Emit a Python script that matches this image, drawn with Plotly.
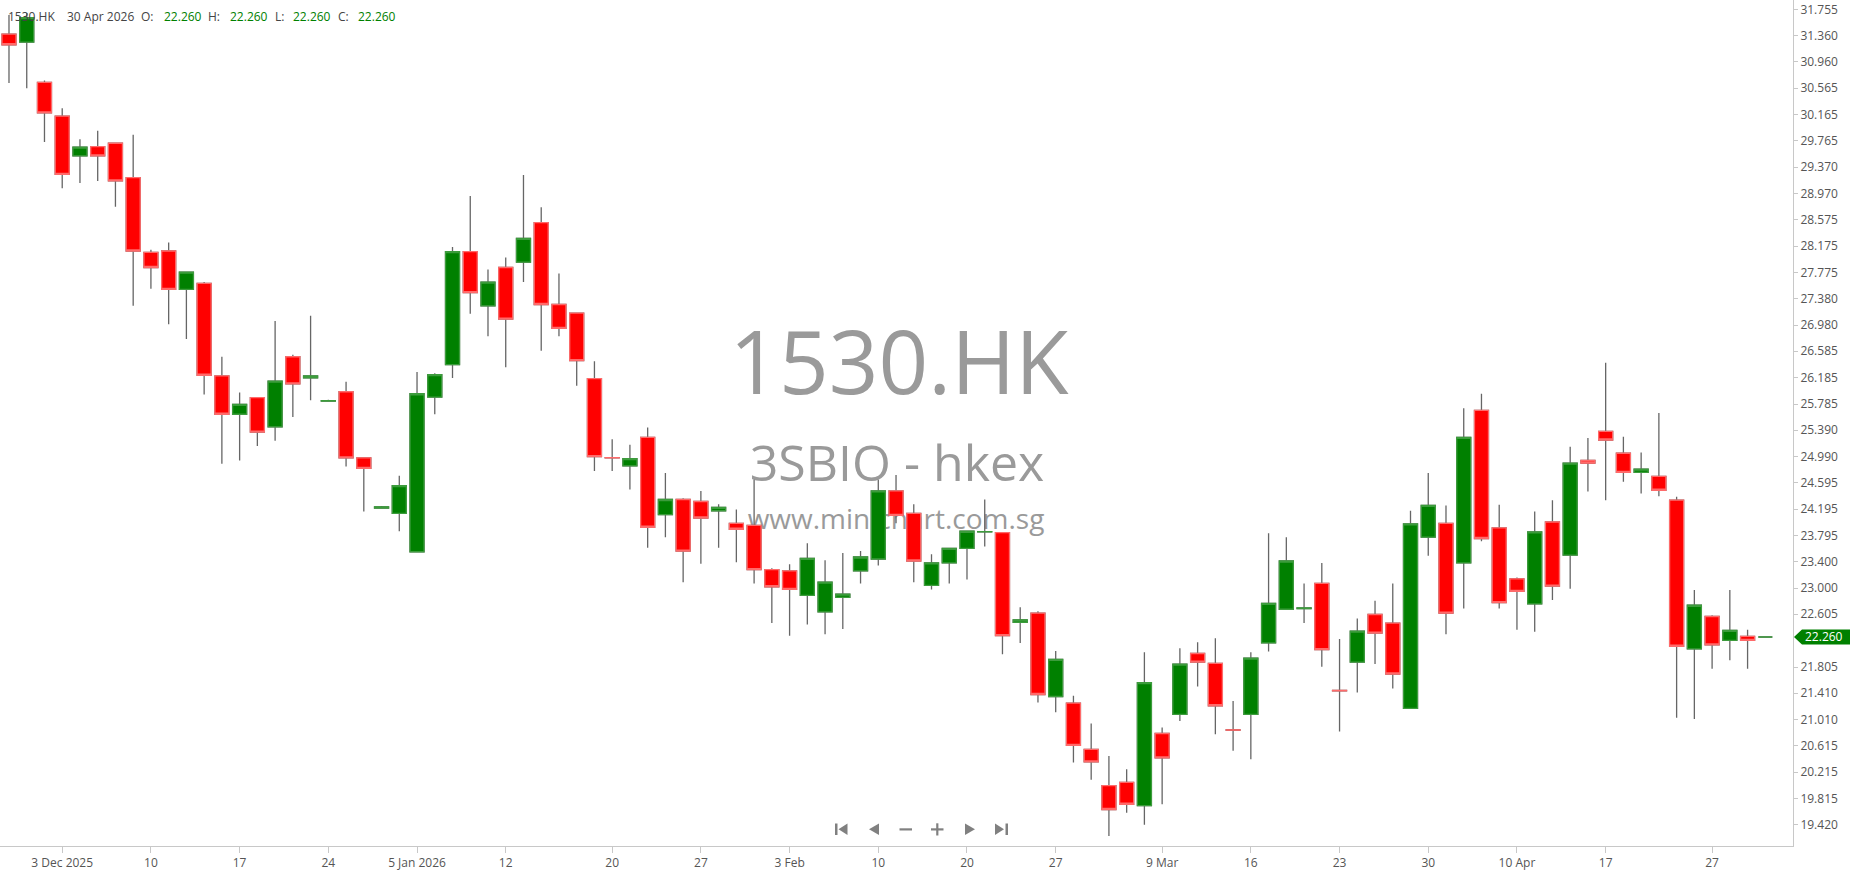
import numpy as np
import plotly.graph_objects as go

# ---------------- data ----------------
opens = [31.38, 31.26, 30.65, 30.14, 29.54, 29.68, 29.73, 29.21, 28.08, 28.10,
         27.52, 27.61, 26.21, 25.63, 25.88, 25.44, 26.50, 26.18, 25.83, 25.97,
         24.97, 24.21, 24.13, 23.55, 25.89, 26.38, 28.09, 27.27, 27.85, 27.93,
         28.53, 27.29, 27.16, 26.17, 24.975, 24.85, 25.28, 24.11, 24.34, 24.31,
         24.17, 23.98, 23.95, 23.28, 23.26, 22.89, 22.64, 22.86, 23.26, 23.44,
         24.47, 24.13, 23.04, 23.38, 23.60, 23.85, 23.84, 22.48, 22.62, 21.36,
         21.26, 20.56, 20.01, 20.06, 19.71, 20.80, 21.09, 22.01, 21.86, 20.856,
         21.09, 22.17, 22.68, 22.69, 23.07, 21.452, 21.88, 22.60, 22.47, 21.18,
         23.77, 23.98, 23.38, 25.69, 23.91, 23.14, 22.76, 24.00, 23.50, 24.93,
         25.37, 25.04, 24.75, 24.69, 24.33, 22.08, 22.57, 22.21, 22.27, 22.26]
highs = [31.67, 31.70, 30.68, 30.26, 29.79, 29.92, 29.74, 29.86, 28.12, 28.23,
         27.78, 27.63, 26.50, 25.96, 25.89, 27.04, 26.53, 27.12, 25.85, 26.12,
         24.98, 24.24, 24.70, 26.27, 26.25, 28.16, 28.93, 27.82, 28.00, 29.25,
         28.76, 27.76, 27.17, 26.43, 25.25, 25.17, 25.43, 24.74, 24.36, 24.47,
         24.27, 24.19, 24.64, 23.30, 23.36, 23.68, 23.42, 23.53, 23.56, 24.64,
         24.71, 24.27, 23.51, 23.60, 23.86, 24.34, 23.84, 22.71, 22.65, 22.05,
         21.37, 20.95, 20.46, 20.26, 22.03, 20.89, 22.09, 22.18, 22.24, 21.29,
         22.03, 23.83, 23.77, 23.07, 23.38, 22.23, 22.54, 22.81, 23.07, 24.17,
         24.74, 24.25, 25.72, 25.94, 24.26, 23.16, 24.16, 24.33, 25.14, 25.27,
         26.41, 25.29, 25.05, 25.65, 24.38, 22.97, 22.59, 22.97, 22.37, 22.26]
lows = [30.64, 30.56, 29.75, 29.05, 29.13, 29.16, 28.77, 27.27, 27.53, 26.99,
        26.77, 25.93, 24.88, 24.93, 25.15, 25.23, 25.59, 25.84, 25.82, 24.84,
        24.16, 24.20, 23.86, 23.55, 25.63, 26.18, 27.15, 26.81, 26.34, 27.63,
        26.59, 26.81, 26.06, 24.77, 24.77, 24.49, 23.61, 23.77, 23.09, 23.37,
        23.61, 23.39, 23.07, 22.47, 22.28, 22.45, 22.30, 22.38, 23.07, 23.34,
        23.98, 23.09, 22.98, 23.07, 23.13, 23.63, 22.00, 22.17, 21.27, 21.12,
        20.36, 20.10, 19.25, 19.60, 19.42, 19.73, 20.99, 21.51, 20.79, 20.54,
        20.41, 22.04, 22.68, 22.47, 21.81, 20.83, 21.42, 21.85, 21.48, 21.18,
        23.49, 22.30, 22.69, 23.71, 22.69, 22.37, 22.34, 22.82, 22.99, 24.46,
        24.33, 24.61, 24.43, 24.39, 21.04, 21.02, 21.78, 21.91, 21.78, 22.26]
closes = [31.22, 31.63, 30.19, 29.26, 29.67, 29.54, 29.16, 28.10, 27.85, 27.52,
          27.78, 26.22, 25.63, 25.78, 25.36, 26.13, 26.09, 26.21, 25.835, 24.97,
          24.81, 24.23, 24.55, 25.94, 26.23, 28.09, 27.47, 27.63, 27.07, 28.29,
          27.29, 26.93, 26.44, 24.99, 24.97, 24.96, 23.92, 24.34, 23.56, 24.06,
          24.22, 23.89, 23.28, 23.02, 22.98, 23.45, 23.09, 22.91, 23.47, 24.47,
          24.10, 23.41, 23.38, 23.60, 23.86, 23.855, 22.28, 22.52, 21.39, 21.92,
          20.62, 20.37, 19.65, 19.73, 21.57, 20.43, 21.85, 21.88, 21.22, 20.85,
          21.94, 22.77, 23.41, 22.70, 22.07, 21.446, 22.35, 22.32, 21.70, 23.97,
          24.25, 22.62, 25.28, 23.75, 22.78, 22.95, 23.85, 23.03, 24.89, 24.89,
          25.24, 24.75, 24.80, 24.48, 22.12, 22.74, 22.14, 22.36, 22.21, 22.26]

tick_positions = [3, 8, 13, 18, 23, 28, 34, 39, 44, 49, 54, 59, 65, 70, 75, 80, 85, 90, 96]
tick_labels = ["3 Dec 2025", "10", "17", "24", "5 Jan 2026", "12", "20", "27", "3 Feb",
               "10", "20", "27", "9 Mar", "16", "23", "30", "10 Apr", "17", "27"]
price_ticks = [31.755, 31.360, 30.960, 30.565, 30.165, 29.765, 29.370, 28.970, 28.575,
               28.175, 27.775, 27.380, 26.980, 26.585, 26.185, 25.785, 25.390, 24.990,
               24.595, 24.195, 23.795, 23.400, 23.000, 22.605, 21.805, 21.410, 21.010,
               20.615, 20.215, 19.815, 19.420]
symbol = "1530.HK"
company = "3SBIO - hkex"
site = "www.minichart.com.sg"
last_date_label = "30 Apr 2026"

# ---------------- styling ----------------
FONT = "Open Sans"
GREEN = "#008000"
RED = "#ff0000"
AXIS = "#c8c8c8"
TXT = "#555555"
W, H = 1850, 874
ML, MR, MT, MB = 0, 57, 0, 28
PW, PH = W - ML - MR, H - MT - MB
YMIN, YMAX = 19.098, 31.897
XMIN, XMAX = -0.507, 100.56


def px(x):
    return x / PW


def py(y):
    return 1 - y / PH


O = np.array(opens)
Hh = np.array(highs)
L = np.array(lows)
C = np.array(closes)
x = np.arange(len(O))

fig = go.Figure()
# wicks (gray)
fig.add_trace(go.Candlestick(
    x=x, open=O, high=Hh, low=L, close=C,
    increasing=dict(line=dict(color="#666666", width=1.3), fillcolor="rgba(0,0,0,0)"),
    decreasing=dict(line=dict(color="#666666", width=1.3), fillcolor="rgba(0,0,0,0)"),
    whiskerwidth=0, hoverinfo="skip", showlegend=False))
# bodies (coloured)
fig.add_trace(go.Candlestick(
    x=x, open=O, high=np.maximum(O, C), low=np.minimum(O, C), close=C,
    increasing=dict(line=dict(color="#3c9c3c", width=1.3), fillcolor=GREEN),
    decreasing=dict(line=dict(color="#ff6a6a", width=1.3), fillcolor=RED),
    whiskerwidth=0, hoverinfo="skip", showlegend=False))

shapes = []
annotations = []

# watermark texts (below the candles)
for text, cx, cy, size in [(symbol, 899, 366, 87), (company, 897, 465, 50), (site, 896, 520, 28)]:
    shapes.append(dict(type="rect", xref="paper", yref="paper",
                       x0=px(cx - 400), x1=px(cx + 400), y0=py(cy + 50), y1=py(cy - 50),
                       line=dict(width=0), fillcolor="rgba(0,0,0,0)", layer="below",
                       label=dict(text=text, textposition="middle center",
                                  font=dict(family=FONT, size=size, color="#9a9a9a"))))

# header
fmt = "{:.3f}"
header = [(6.7, symbol, "#444444"), (66, last_date_label, "#444444"),
          (140, "O:", "#444444"), (162.7, fmt.format(O[-1]), GREEN),
          (207, "H:", "#444444"), (228.7, fmt.format(Hh[-1]), GREEN),
          (274, "L:", "#444444"), (292, fmt.format(L[-1]), GREEN),
          (336.7, "C:", "#444444"), (357.3, fmt.format(C[-1]), GREEN)]
for hx, t, col in header:
    annotations.append(dict(xref="paper", yref="paper", x=px(hx), y=py(17), text=t,
                            showarrow=False, xanchor="left", yanchor="middle", borderpad=0,
                            font=dict(family=FONT, size=12, color=col)))

# last price tag
last = C[-1]
ly = (last - YMIN) / (YMAX - YMIN)
hh = 7.5 / PH
shapes.append(dict(type="path", xref="paper", yref="paper", layer="above",
                   path=f"M {px(1794)},{ly} L {px(1802)},{ly + hh} L {px(1850)},{ly + hh} "
                        f"L {px(1850)},{ly - hh} L {px(1802)},{ly - hh} Z",
                   fillcolor=GREEN, line=dict(width=0)))
annotations.append(dict(xref="paper", yref="paper", x=px(1804), y=ly, text=fmt.format(last),
                        showarrow=False, xanchor="left", yanchor="middle", borderpad=0,
                        font=dict(family=FONT, size=12, color="white")))

# navigation icons
ICON = "#808080"


def poly(pts):
    return "M " + " L ".join(f"{px(a)},{py(b)}" for a, b in pts) + " Z"


icon_paths = [
    [(835, 823.5), (837.5, 823.5), (837.5, 835), (835, 835)],
    [(847.5, 823.5), (847.5, 835), (838.5, 829.3)],
    [(879, 823.5), (879, 835), (869, 829.3)],
    [(899.5, 828.3), (912, 828.3), (912, 830.5), (899.5, 830.5)],
    [(931, 828.3), (943.5, 828.3), (943.5, 830.5), (931, 830.5)],
    [(936.2, 823.3), (938.4, 823.3), (938.4, 835.5), (936.2, 835.5)],
    [(965, 823.5), (965, 835), (975, 829.3)],
    [(995, 823.5), (995, 835), (1004, 829.3)],
    [(1005.5, 823.5), (1008, 823.5), (1008, 835), (1005.5, 835)],
]
for pts in icon_paths:
    shapes.append(dict(type="path", xref="paper", yref="paper", path=poly(pts),
                       fillcolor=ICON, line=dict(width=0), layer="above"))

fig.update_layout(
    width=W, height=H, autosize=False,
    margin=dict(l=ML, r=MR, t=MT, b=MB, pad=0),
    paper_bgcolor="white", plot_bgcolor="white",
    showlegend=False, hovermode=False, dragmode=False,
    boxmode="overlay", boxgap=0.21, boxgroupgap=0,
    font=dict(family=FONT, size=12, color=TXT),
    xaxis=dict(range=[XMIN, XMAX], tickmode="array", tickvals=tick_positions, ticktext=tick_labels,
               showgrid=False, zeroline=False, showline=True, linecolor=AXIS, linewidth=1,
               ticks="outside", ticklen=6, tickcolor=AXIS, tickwidth=1,
               tickfont=dict(family=FONT, size=12, color=TXT),
               rangeslider=dict(visible=False), fixedrange=True),
    yaxis=dict(range=[YMIN, YMAX], side="right", tickmode="array", tickvals=price_ticks,
               ticktext=[fmt.format(v) for v in price_ticks],
               showgrid=False, zeroline=False, showline=True, linecolor=AXIS, linewidth=1,
               ticks="outside", ticklen=4, tickcolor=AXIS, tickwidth=1,
               tickfont=dict(family=FONT, size=12, color=TXT), fixedrange=True),
    shapes=shapes, annotations=annotations,
)

fig.write_html("out.html", config={"displayModeBar": False, "staticPlot": False},
               post_script="document.body.style.margin='0';document.body.style.overflow='hidden';")
